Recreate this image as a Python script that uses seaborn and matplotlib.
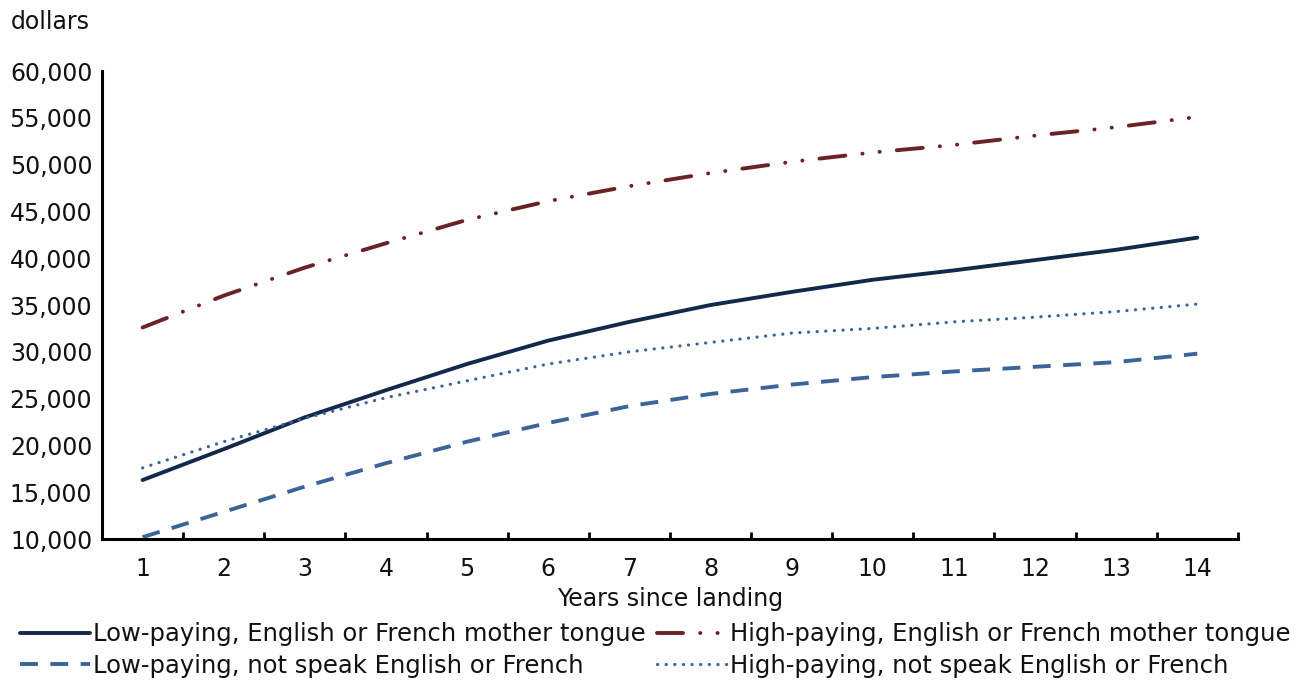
import numpy as np
import pandas as pd
import seaborn as sns
from matplotlib import pyplot as plt
from matplotlib.ticker import FuncFormatter

YEARS = list(range(1, 15))

LOW_ENG_FR = [16300, 19600, 23000, 25900, 28700, 31200, 33200, 35000, 36400, 37700, 38700, 39800, 40900, 42200]
HIGH_ENG_FR = [32600, 36000, 39000, 41600, 44100, 46100, 47700, 49100, 50300, 51300, 52100, 53100, 54000, 55100]
LOW_NOT_SPEAK = [10200, 12900, 15600, 18100, 20400, 22400, 24200, 25500, 26500, 27300, 27900, 28400, 28900, 29800]
HIGH_NOT_SPEAK = [17600, 20400, 22900, 25100, 26900, 28700, 30000, 31000, 32000, 32500, 33200, 33700, 34300, 35100]

LABELS = [
    "Low-paying, English or French mother tongue",
    "Low-paying, not speak English or French",
    "High-paying, English or French mother tongue",
    "High-paying, not speak English or French",
]

STYLES = {
    LABELS[0]: dict(color="#13294b", linestyle="-", linewidth=2.8),
    LABELS[1]: dict(color="#3b6499", linestyle=(0, (4.6, 3.2)), linewidth=2.8),
    LABELS[2]: dict(color="#6b2226", linestyle=(0, (6.7, 4.4, 0.05, 4.4, 0.05, 4.4)), linewidth=2.8,
                    dash_capstyle="round"),
    LABELS[3]: dict(color="#3b6499", linestyle=(0, (0.05, 2.65)), linewidth=2.3, dash_capstyle="round"),
}

df = pd.DataFrame({
    "year": YEARS * 4,
    "income": LOW_ENG_FR + LOW_NOT_SPEAK + HIGH_ENG_FR + HIGH_NOT_SPEAK,
    "series": [lbl for lbl in LABELS for _ in YEARS],
})

sns.set_style("white")
plt.rcParams["font.family"] = ["DejaVu Sans"]
FS = 17
TXT = "#111111"

fig = plt.figure(figsize=(13.03, 6.81), dpi=100)
ax = fig.add_axes([0.0783, 0.2085, 0.8717, 0.6872])

for label in LABELS:
    sub = df[df["series"] == label]
    sns.lineplot(data=sub, x="year", y="income", ax=ax, label=label, **STYLES[label])

ax.set_xlim(0.5, 14.5)
ax.set_ylim(10000, 60000)
ax.set_yticks(np.arange(10000, 60001, 5000))
ax.yaxis.set_major_formatter(FuncFormatter(lambda v, pos: f"{int(v):,}"))
ax.set_xticks(YEARS)
ax.set_xticks(np.arange(1.5, 14.6, 1), minor=True)
ax.tick_params(axis="x", which="major", length=0, pad=13, labelsize=FS, colors=TXT)
ax.tick_params(axis="x", which="minor", direction="in", length=5, width=2, color="black", bottom=True)
ax.tick_params(axis="y", length=0, pad=7, labelsize=FS, colors=TXT)

for side in ("top", "right"):
    ax.spines[side].set_visible(False)
for side in ("left", "bottom"):
    ax.spines[side].set_color("black")
    ax.spines[side].set_linewidth(2.2)

ax.set_xlabel("Years since landing", fontsize=FS, color=TXT, labelpad=4)
ax.set_ylabel("")
fig.text(0.008, 0.968, "dollars", fontsize=FS, color=TXT, va="center", ha="left")

handles, labels = ax.get_legend_handles_labels()
ax.get_legend().remove()
fig.legend(handles, labels, ncol=2, loc="upper left", bbox_to_anchor=(0.015, 0.086),
           bbox_transform=fig.transFigure,
           frameon=False, fontsize=17.5, handlelength=2.9, handletextpad=0.12,
           columnspacing=0.45, labelspacing=0.3, borderaxespad=0, borderpad=0,
           labelcolor=TXT)

fig.savefig("out.png", dpi=100)
